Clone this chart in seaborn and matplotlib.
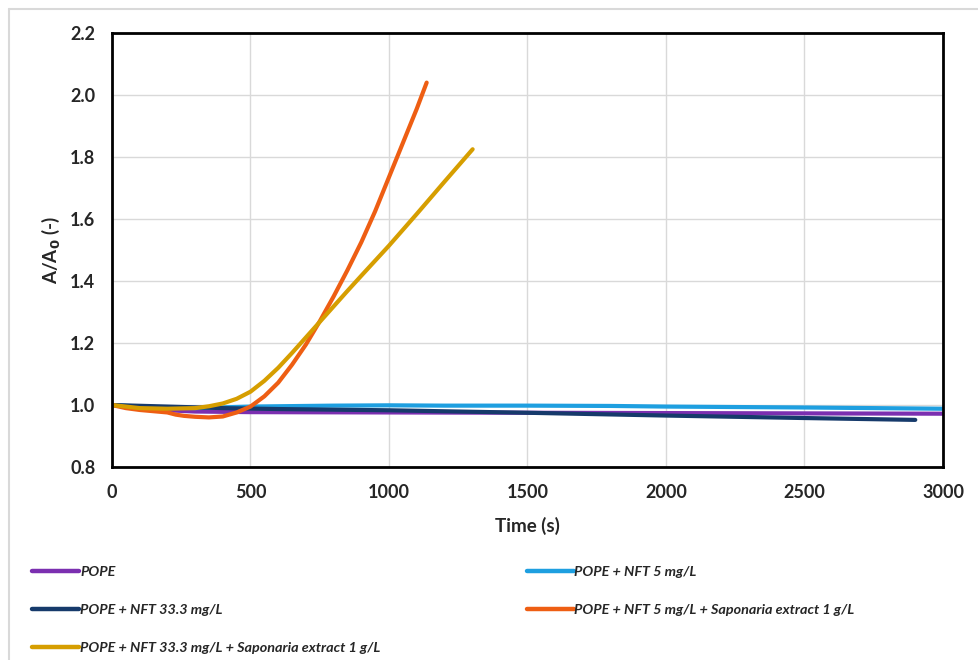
import matplotlib
matplotlib.use("Agg")
import matplotlib.pyplot as plt
from matplotlib.lines import Line2D
import pandas as pd
import seaborn as sns

# ---- data ----
labels = [
    "POPE",
    "POPE + NFT 5 mg/L",
    "POPE + NFT 33.3 mg/L",
    "POPE + NFT 5 mg/L + Saponaria extract 1 g/L",
    "POPE + NFT 33.3 mg/L + Saponaria extract 1 g/L",
]
colors = ["#7B2FB0", "#1E9FE0", "#163A6B", "#EE5E13", "#D69E00"]

t_pope = [0, 100, 200, 300, 500, 1000, 1500, 2000, 2500, 3000]
v_pope = [1.0, 0.990, 0.983, 0.979, 0.977, 0.976, 0.975, 0.974, 0.973, 0.972]

t_nft5 = [0, 100, 200, 300, 500, 800, 1000, 1200, 1500, 1800, 2000, 2500, 3000]
v_nft5 = [1.0, 0.995, 0.992, 0.990, 0.995, 0.998, 0.999, 0.998, 0.998, 0.997, 0.995, 0.992, 0.988]

t_nft33 = [0, 200, 400, 600, 1000, 1500, 2000, 2500, 2900]
v_nft33 = [1.0, 0.995, 0.990, 0.987, 0.983, 0.975, 0.966, 0.958, 0.952]

t_nft5_sap = [0, 50, 100, 150, 200, 230, 260, 300, 350, 400, 450, 500, 550, 600,
              650, 700, 750, 800, 850, 900, 950, 1000, 1050, 1100, 1136]
v_nft5_sap = [1.0, 0.990, 0.984, 0.980, 0.976, 0.969, 0.965, 0.962, 0.960, 0.963,
              0.976, 0.995, 1.028, 1.072, 1.13, 1.195, 1.27, 1.35, 1.435, 1.525,
              1.625, 1.735, 1.845, 1.955, 2.04]

t_nft33_sap = [0, 100, 200, 300, 350, 400, 450, 500, 550, 600, 650, 700, 750,
               800, 850, 900, 1000, 1100, 1200, 1302]
v_nft33_sap = [1.0, 0.990, 0.988, 0.990, 0.996, 1.005, 1.020, 1.043, 1.078, 1.120,
               1.168, 1.218, 1.268, 1.318, 1.368, 1.417, 1.514, 1.616, 1.72, 1.825]

series = [
    (t_pope, v_pope),
    (t_nft5, v_nft5),
    (t_nft33, v_nft33),
    (t_nft5_sap, v_nft5_sap),
    (t_nft33_sap, v_nft33_sap),
]

frames = []
for lab, (t, v) in zip(labels, series):
    frames.append(pd.DataFrame({"time": t, "ratio": v, "sample": lab}))
df = pd.concat(frames, ignore_index=True)

sns.set_style("white")
plt.rcParams["font.family"] = ["Lato", "DejaVu Sans"]

fig = plt.figure(figsize=(9.79, 6.6), dpi=100)
ax = fig.add_axes([0.1144, 0.2924, 0.8488, 0.6576])

palette = dict(zip(labels, colors))
sns.lineplot(data=df, x="time", y="ratio", hue="sample", hue_order=labels,
             palette=palette, linewidth=3.0, sort=False, estimator=None,
             legend=False, ax=ax)

ax.set_xlim(0, 3000)
ax.set_ylim(0.8, 2.2)
ax.set_xticks(range(0, 3001, 500))
ax.set_yticks([0.8, 1.0, 1.2, 1.4, 1.6, 1.8, 2.0, 2.2])
ax.set_yticklabels([f"{y:.1f}" for y in ax.get_yticks()])
ax.grid(True, color="#D9D9D9", linewidth=1.0)
ax.set_axisbelow(True)
for s in ax.spines.values():
    s.set_visible(True)
    s.set_color("black")
    s.set_linewidth(2.0)
ax.tick_params(axis="both", length=0, pad=12, labelsize=13)
for lbl in ax.get_xticklabels() + ax.get_yticklabels():
    lbl.set_fontweight("bold")

ax.set_xlabel("Time (s)", fontsize=13.5, fontweight="bold", labelpad=12)
ax.set_ylabel("A/A$_\\mathbf{0}$ (-)", fontsize=13.5, fontweight="bold", labelpad=6)

# legend: two hand-placed columns, filled row-wise like the original
leg_prop = {"weight": "bold", "style": "italic", "size": 10.4}
col_sets = [([0, 2, 4], 0.033), ([1, 3], 0.538)]
for idx, xpos in col_sets:
    hs = [Line2D([0], [0], color=colors[i], lw=3.2) for i in idx]
    fig.legend(hs, [labels[i] for i in idx], loc="upper left",
               bbox_to_anchor=(xpos, 0.142), frameon=False,
               handlelength=3.25, handletextpad=0.05, labelspacing=1.78,
               borderpad=0, borderaxespad=0, prop=leg_prop)

# light frame of the original figure
fig.add_artist(Line2D([0.009, 0.009], [0, 0.987], color="#D9D9D9", lw=1.5))
fig.add_artist(Line2D([0.009, 1.0], [0.987, 0.987], color="#D9D9D9", lw=1.5))

fig.savefig("out.png", dpi=100)
